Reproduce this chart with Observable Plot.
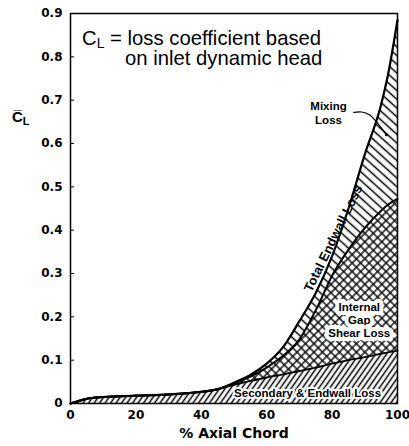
<!DOCTYPE html>
<html><head><meta charset="utf-8">
<script src="https://cdn.jsdelivr.net/npm/d3@7"></script>
<script src="https://cdn.jsdelivr.net/npm/@observablehq/plot@0.6"></script>
<style>body{margin:0;background:#fff}</style>
</head><body><div id="chart"></div>
<script>
// % axial chord grid
const axialChord       = [0, 3, 5, 10, 20, 30, 40, 45, 50, 55, 60, 65, 70, 75, 80, 85, 90, 95, 97, 100];
// top of "Secondary & Endwall Loss" band
const secondaryLoss    = [0, 0.007, 0.011, 0.015, 0.018, 0.021, 0.027, 0.033, 0.043, 0.052, 0.06, 0.067, 0.075, 0.083, 0.092, 0.1, 0.107, 0.115, 0.118, 0.122];
// top of "Internal Gap Shear Loss" band
const gapShearTop      = [0, 0.007, 0.011, 0.015, 0.018, 0.021, 0.027, 0.033, 0.046, 0.062, 0.083, 0.11, 0.148, 0.215, 0.295, 0.355, 0.405, 0.445, 0.458, 0.472];
// "Total Endwall Loss" (top of "Mixing Loss" band)
const totalEndwallLoss = [0, 0.007, 0.011, 0.015, 0.018, 0.021, 0.027, 0.033, 0.048, 0.066, 0.092, 0.13, 0.19, 0.255, 0.34, 0.45, 0.575, 0.69, 0.755, 0.885];
const xTicks = [0, 20, 40, 60, 80, 100];
const yTicks = [0, 0.1, 0.2, 0.3, 0.4, 0.5, 0.6, 0.7, 0.8, 0.9];

const data = axialChord.map((x, i) => ({x, sec: secondaryLoss[i], gap: gapShearTop[i], total: totalEndwallLoss[i]}));
const curve = "monotone-x";
const lab = {fontFamily: "'Liberation Sans', Arial, sans-serif", fontWeight: "bold", fill: "black"};

const plot = Plot.plot({
  width: 409, height: 446,
  marginLeft: 70, marginRight: 12, marginTop: 13, marginBottom: 43,
  style: {fontFamily: "'DejaVu Sans', sans-serif", background: "white", color: "black", overflow: "visible"},
  x: {domain: [0, 100]},
  y: {domain: [0, 0.9]},
  marks: [
    Plot.areaY(data, {x: "x", y1: 0, y2: "sec", fill: "url(#hatchSec)", curve}),
    Plot.areaY(data, {x: "x", y1: "sec", y2: "gap", fill: "url(#hatchCross)", curve}),
    Plot.areaY(data, {x: "x", y1: "gap", y2: "total", fill: "url(#hatchMix)", curve}),
    Plot.lineY(data, {x: "x", y: "sec", stroke: "black", strokeWidth: 1.8, curve}),
    Plot.lineY(data, {x: "x", y: "gap", stroke: "black", strokeWidth: 2, curve}),
    Plot.lineY(data, {x: "x", y: "total", stroke: "black", strokeWidth: 2.2, curve}),
    Plot.frame({stroke: "black", strokeWidth: 1.5}),
    Plot.axisY({ticks: yTicks, tickSize: -4, tickPadding: 12, tickFormat: d => d === 0 ? "0" : d.toFixed(1), fontSize: 12, fontWeight: "bold", label: null}),
    Plot.axisX({ticks: xTicks, tickSize: 0, tickPadding: 7, fontSize: 12, fontWeight: "bold", label: null}),
    Plot.text(["% Axial Chord"], {frameAnchor: "bottom", dy: 34, fontSize: 14, fontWeight: "bold"}),
    // annotations
    Plot.text(["Mixing\nLoss"], {x: 78.9, y: 0.672, fontSize: 11.5, lineHeight: 1.2, ...lab}),
    Plot.line([[86.6, 0.672], [91.5, 0.666], [96.6, 0.62]], {stroke: "black", strokeWidth: 1.2, curve: "natural"}),
    Plot.dot([[96.6, 0.62]], {r: 1.5, fill: "black"}),
    Plot.text(["Total Endwall Loss"], {x: 80.4, y: 0.381, rotate: -64, fontSize: 13, ...lab}),
    Plot.text(["Internal\nGap\nShear Loss"], {x: 88.3, y: 0.193, fontSize: 11.5, lineHeight: 1.15, stroke: "white", strokeWidth: 8, ...lab}),
    Plot.text(["Secondary & Endwall Loss"], {x: 72.5, y: 0.023, fontSize: 11.5, stroke: "white", strokeWidth: 4, ...lab})
  ]
});

const svg = d3.select(plot);
const defs = svg.insert("defs", ":first-child");
function hatch(id, angle, size, width, cross) {
  const p = defs.append("pattern").attr("id", id).attr("patternUnits", "userSpaceOnUse")
    .attr("width", size).attr("height", size).attr("patternTransform", `rotate(${angle})`);
  p.append("rect").attr("width", size).attr("height", size).attr("fill", "white");
  p.append("line").attr("x1", size / 2).attr("x2", size / 2).attr("y1", 0).attr("y2", size)
    .attr("stroke", "black").attr("stroke-width", width);
  if (cross) p.append("line").attr("y1", size / 2).attr("y2", size / 2).attr("x1", 0).attr("x2", size)
    .attr("stroke", "black").attr("stroke-width", width);
}
hatch("hatchSec", 35, 4.5, 1.5, false);
hatch("hatchCross", 45, 6, 1.4, true);
hatch("hatchMix", -48, 6.5, 1.5, false);

// y-axis label  C̄L
const yl = svg.append("text").attr("x", 12).attr("y", 122).attr("text-anchor", "start")
  .attr("font-family", "'Liberation Sans', Arial, sans-serif").attr("font-weight", "bold").attr("font-size", 15);
yl.append("tspan").text("C\u0305");
yl.append("tspan").attr("font-size", 11).attr("dy", 3).text("L");

// definition note
const note = svg.append("g").attr("text-anchor", "start")
  .attr("font-family", "'Liberation Sans', Arial, sans-serif").attr("font-size", 20.3).attr("fill", "black");
const l1 = note.append("text").attr("x", 82).attr("y", 45);
l1.append("tspan").text("C");
l1.append("tspan").attr("font-size", 14).attr("dy", 3).text("L");
l1.append("tspan").attr("dy", -3).text(" = loss coefficient based");
note.append("text").attr("x", 125).attr("y", 65).text("on inlet dynamic head");

document.getElementById("chart").appendChild(plot);
</script>
</body></html>
